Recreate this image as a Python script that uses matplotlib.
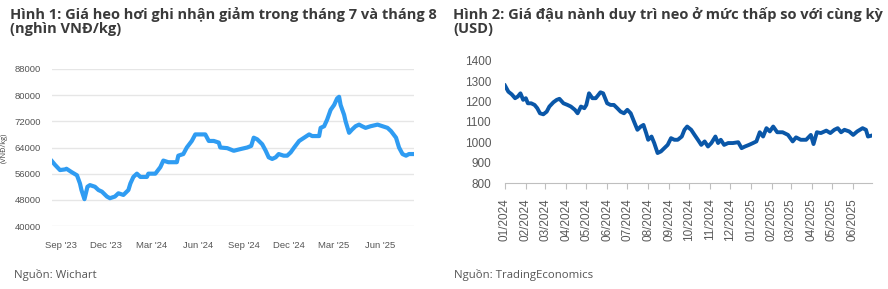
import pandas as pd
import matplotlib
matplotlib.use("Agg")
import matplotlib.pyplot as plt
import matplotlib.dates as mdates

# Hinh 1: live hog price (VND/kg)
hog_dates = [
    "2023-08-14", "2023-08-20", "2023-08-30", "2023-09-09", "2023-09-12", "2023-09-22",
    "2023-10-03", "2023-10-09", "2023-10-12", "2023-10-18", "2023-10-24", "2023-10-29",
    "2023-11-08", "2023-11-15", "2023-11-22", "2023-12-02", "2023-12-08", "2023-12-18",
    "2023-12-25", "2024-01-04", "2024-01-14", "2024-01-18", "2024-01-24", "2024-01-31",
    "2024-02-07", "2024-02-20", "2024-02-23", "2024-03-08", "2024-03-18", "2024-03-24",
    "2024-04-03", "2024-04-20", "2024-04-23", "2024-05-03", "2024-05-10", "2024-05-20",
    "2024-05-27", "2024-06-06", "2024-06-16", "2024-06-23", "2024-07-03", "2024-07-13",
    "2024-07-16", "2024-07-30", "2024-08-12", "2024-08-25", "2024-09-08", "2024-09-16",
    "2024-09-21", "2024-09-28", "2024-10-08", "2024-10-15", "2024-10-21", "2024-10-28",
    "2024-11-04", "2024-11-10", "2024-11-20", "2024-11-27", "2024-12-04", "2024-12-11",
    "2024-12-21", "2024-12-31", "2025-01-10", "2025-01-16", "2025-01-30", "2025-02-02",
    "2025-02-09", "2025-02-15", "2025-02-22", "2025-03-01", "2025-03-07", "2025-03-11",
    "2025-03-14", "2025-03-21", "2025-03-24", "2025-03-31", "2025-04-06", "2025-04-13",
    "2025-04-20", "2025-04-26", "2025-05-03", "2025-05-13", "2025-05-27", "2025-06-06",
    "2025-06-16", "2025-06-23", "2025-07-03", "2025-07-09", "2025-07-16", "2025-07-23",
    "2025-07-29", "2025-08-08",
]
hog_price = [
    59800, 58700, 57100, 57300, 57500, 56500,
    55500, 53000, 51000, 48200, 52000, 52500,
    52000, 51000, 50500, 49000, 48500, 49000,
    50000, 49500, 51000, 53000, 55000, 56000,
    55000, 55000, 56000, 56000, 58000, 60000,
    59500, 59500, 61500, 62000, 64000, 66000,
    68000, 68000, 68000, 66000, 66000, 65500,
    64000, 63800, 63000, 63500, 64000, 64500,
    67000, 66500, 65000, 63000, 61000, 60500,
    61000, 62000, 61500, 61500, 62500, 64000,
    66000, 67000, 68000, 67500, 67500, 70000,
    70500, 72500, 75500, 77000, 79000, 79500,
    77000, 74000, 72000, 68500, 69500, 70500,
    71000, 70500, 70000, 70500, 71000, 70500,
    70000, 69000, 67000, 64000, 62000, 61500,
    62000, 62000,
]
hog_ticks = [40000, 48000, 56000, 64000, 72000, 80000, 88000]

# Hinh 2: soybean price (USD)
soy_dates = [
    "2024-01-01", "2024-01-06", "2024-01-11", "2024-01-16", "2024-01-20", "2024-01-24",
    "2024-01-28", "2024-02-01", "2024-02-04", "2024-02-09", "2024-02-14", "2024-02-18",
    "2024-02-22", "2024-02-27", "2024-03-03", "2024-03-07", "2024-03-13", "2024-03-18",
    "2024-03-22", "2024-03-28", "2024-04-03", "2024-04-08", "2024-04-14", "2024-04-18",
    "2024-04-23", "2024-04-28", "2024-05-01", "2024-05-05", "2024-05-10", "2024-05-15",
    "2024-05-22", "2024-05-26", "2024-06-01", "2024-06-06", "2024-06-11", "2024-06-16",
    "2024-06-21", "2024-06-26", "2024-07-01", "2024-07-06", "2024-07-11", "2024-07-16",
    "2024-07-21", "2024-07-25", "2024-07-29", "2024-08-01", "2024-08-06", "2024-08-10",
    "2024-08-15", "2024-08-20", "2024-08-25", "2024-08-30", "2024-09-04", "2024-09-09",
    "2024-09-14", "2024-09-20", "2024-09-24", "2024-09-28", "2024-10-04", "2024-10-09",
    "2024-10-14", "2024-10-19", "2024-10-24", "2024-10-29", "2024-11-03", "2024-11-09",
    "2024-11-13", "2024-11-17", "2024-11-22", "2024-11-28", "2024-12-05", "2024-12-13",
    "2024-12-18", "2024-12-23", "2024-12-29", "2025-01-04", "2025-01-09", "2025-01-14",
    "2025-01-19", "2025-01-24", "2025-01-29", "2025-02-03", "2025-02-09", "2025-02-17",
    "2025-02-25", "2025-03-04", "2025-03-09", "2025-03-16", "2025-03-24", "2025-03-31",
    "2025-04-04", "2025-04-09", "2025-04-15", "2025-04-23", "2025-04-29", "2025-05-05",
    "2025-05-10", "2025-05-15", "2025-05-20", "2025-05-27", "2025-06-02", "2025-06-08",
    "2025-06-16", "2025-06-21", "2025-06-24", "2025-06-30",
]
soy_price = [
    1278, 1248, 1235, 1216, 1224, 1240,
    1208, 1216, 1191, 1191, 1183, 1167,
    1142, 1137, 1150, 1175, 1196, 1208,
    1213, 1191, 1183, 1175, 1159, 1142,
    1175, 1167, 1183, 1240, 1216, 1216,
    1245, 1240, 1191, 1183, 1183, 1167,
    1150, 1142, 1159, 1142, 1101, 1061,
    1077, 1085, 1045, 1012, 1028, 996,
    947, 955, 971, 987, 1020, 1012,
    1012, 1028, 1061, 1077, 1061, 1036,
    1012, 987, 1004, 979, 996, 1028,
    996, 1012, 987, 996, 996, 1000,
    971, 979, 987, 996, 1004, 1049,
    1028, 1069, 1053, 1077, 1049, 1049,
    1036, 1004, 1024, 1012, 1012, 1036,
    991, 1049, 1045, 1057, 1045, 1061,
    1069, 1049, 1061, 1053, 1036, 1053,
    1069, 1061, 1028, 1033,
]
soy_ticks = [800, 900, 1000, 1100, 1200, 1300, 1400]

hog = pd.Series(hog_price, index=pd.to_datetime(hog_dates))
soy = pd.Series(soy_price, index=pd.to_datetime(soy_dates))

plt.rcParams["font.family"] = ["Open Sans", "DejaVu Sans"]

fig = plt.figure(figsize=(8.88, 2.89), dpi=100)

# --- chart 1 ---
ax1 = fig.add_axes([52 / 888, 1 - 226 / 289, 362 / 888, 157 / 289])
ax1.plot(hog.index, hog.values, color="#2f9cf2", linewidth=3, solid_joinstyle="round")
ax1.set_ylim(40000, 88000)
ax1.set_yticks(hog_ticks)
ax1.set_xlim(hog.index[0], hog.index[-1])
ax1.grid(axis="y", color="#e6e6e6", linewidth=1)
ax1.set_axisbelow(True)
for s in ax1.spines.values():
    s.set_visible(False)
ax1.xaxis.set_major_locator(mdates.MonthLocator(bymonth=[3, 6, 9, 12]))
ax1.xaxis.set_major_formatter(mdates.DateFormatter("%b '%y"))
ax1.tick_params(axis="both", length=0, labelsize=6.8, labelcolor="#555555")
ax1.tick_params(axis="x", pad=11)
ax1.tick_params(axis="y", pad=8)
for lbl in ax1.get_xticklabels() + ax1.get_yticklabels():
    lbl.set_family(["Liberation Sans", "DejaVu Sans"])
ax1.set_ylabel("(VNĐ/kg)", fontsize=5.3, color="#444444")
ax1.yaxis.set_label_coords(-0.122, 0.5)

# --- chart 2 ---
ax2 = fig.add_axes([505 / 888, 1 - 183 / 289, 367 / 888, 122.3 / 289])
ax2.plot(soy.index, soy.values, color="#0a57a8", linewidth=2.8, solid_joinstyle="round")
ax2.set_ylim(800, 1400)
ax2.set_yticks(soy_ticks)
ax2.set_xlim(soy.index[0], soy.index[-1])
for side in ["top", "right", "left"]:
    ax2.spines[side].set_visible(False)
ax2.spines["bottom"].set_color("#bfbfbf")
ax2.xaxis.set_major_locator(mdates.MonthLocator())
ax2.xaxis.set_major_formatter(mdates.DateFormatter("%m/%Y"))
ax2.tick_params(axis="x", length=4, color="#bfbfbf", labelsize=8.5, labelcolor="#595959",
                labelrotation=90, pad=7)
ax2.tick_params(axis="y", length=0, labelsize=8.5, labelcolor="#595959", pad=10)
for lbl in ax2.get_xticklabels() + ax2.get_yticklabels():
    lbl.set_family(["Liberation Sans", "DejaVu Sans"])

# --- titles and sources ---
title_kw = dict(fontsize=10.5, fontweight="bold", color="#3a3a3a", va="center", ha="left")
fig.text(10 / 888, 1 - 14 / 289, "Hình 1: Giá heo hơi ghi nhận giảm trong tháng 7 và tháng 8", **title_kw)
fig.text(10 / 888, 1 - 28.5 / 289, "(nghìn VNĐ/kg)", **title_kw)
fig.text(453 / 888, 1 - 14 / 289, "Hình 2: Giá đậu nành duy trì neo ở mức thấp so với cùng kỳ", **title_kw)
fig.text(453 / 888, 1 - 28.5 / 289, "(USD)", **title_kw)
fig.text(14 / 888, 1 - 275 / 289, "Nguồn: Wichart", fontsize=8.2, color="#555555",
         va="center", ha="left")
fig.text(454 / 888, 1 - 275 / 289, "Nguồn: TradingEconomics", fontsize=8.2, color="#555555",
         va="center", ha="left")

fig.savefig("out.png", dpi=100)
